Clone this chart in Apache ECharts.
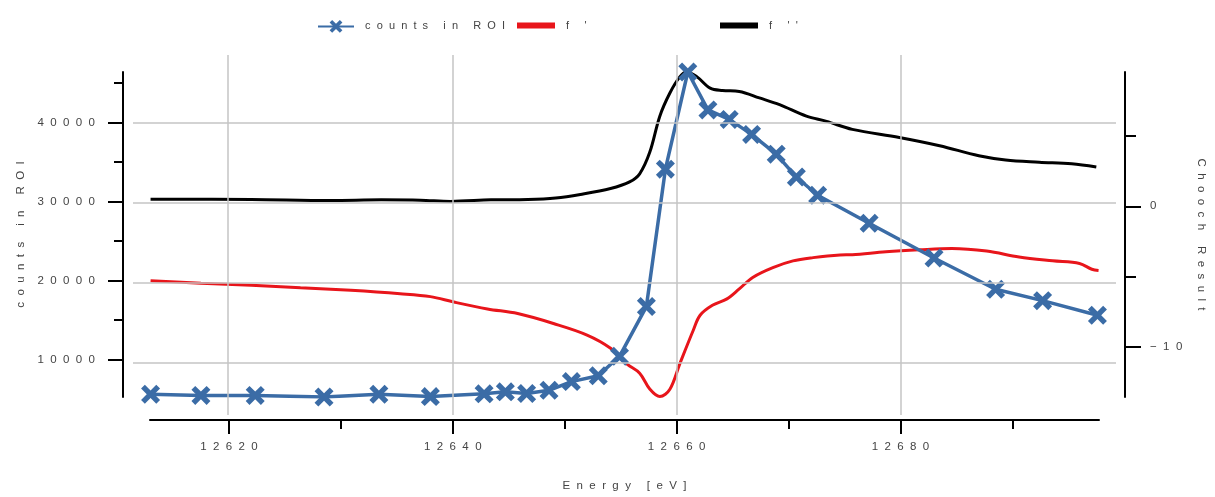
<!DOCTYPE html>
<html>
<head>
<meta charset="utf-8">
<script src="https://cdn.jsdelivr.net/npm/echarts@6/dist/echarts.min.js"></script>
<style>
  html, body { margin: 0; padding: 0; background: #fff; }
  #chart { width: 1215px; height: 497px; }
</style>
</head>
<body>
<div id="chart"></div>
<script>
// counts in ROI (left axis)
const countsEnergy = [12613.0, 12617.5, 12622.35, 12628.5, 12633.4, 12638.0, 12642.8, 12644.7, 12646.6, 12648.6,
  12650.6, 12653.0, 12654.9, 12657.3, 12659.0, 12661.0, 12662.8, 12664.7, 12666.7, 12668.9,
  12670.7, 12672.6, 12677.2, 12683.0, 12688.5, 12692.7, 12697.6];
const countsInROI = [5600, 5450, 5450, 5250, 5600, 5300, 5650, 5900, 5700, 6100,
  7200, 7950, 10400, 16700, 34100, 46400, 41600, 40400, 38500, 36000,
  33100, 30800, 27250, 22850, 18900, 17450, 15600];

// f' (right axis, Chooch Result)
const fPrimeEnergy = [12613.0, 12617.5, 12622.0, 12626.4, 12630.9, 12635.3, 12638.0, 12640.1, 12643.1, 12645.8,
  12649.0, 12652.0, 12654.1, 12655.6, 12656.7, 12657.6, 12658.5, 12659.4, 12660.3, 12661.5,
  12662.1, 12663.2, 12664.5, 12665.6, 12666.8, 12668.6, 12670.4, 12672.2, 12674.6, 12675.7,
  12678.7, 12681.7, 12684.6, 12687.7, 12690.6, 12693.6, 12696.0, 12697.1, 12697.7];
const fPrime = [-5.30, -5.49, -5.63, -5.81, -5.99, -6.23, -6.44, -6.83, -7.32, -7.65,
  -8.36, -9.18, -10.12, -11.27, -11.90, -13.03, -13.57, -13.05, -11.20, -8.82,
  -7.77, -7.06, -6.60, -5.89, -5.07, -4.37, -3.89, -3.66, -3.47, -3.45,
  -3.24, -3.10, -3.01, -3.19, -3.61, -3.89, -4.08, -4.49, -4.58];

// f'' (right axis, Chooch Result)
const fDoubleEnergy = [12613.0, 12622.0, 12629.1, 12633.6, 12637.1, 12639.8, 12643.4, 12646.7, 12649.2, 12651.4,
  12654.1, 12655.8, 12656.7, 12657.6, 12658.5, 12659.4, 12660.3, 12660.9, 12661.8, 12663.0,
  12664.1, 12665.6, 12667.4, 12669.2, 12671.6, 12673.4, 12675.7, 12679.9, 12683.5, 12687.0,
  12689.4, 12692.4, 12695.3, 12697.5];
const fDouble = [0.51, 0.49, 0.42, 0.46, 0.44, 0.35, 0.46, 0.49, 0.60, 0.85,
  1.27, 1.74, 2.32, 3.85, 6.43, 8.08, 9.25, 9.58, 9.25, 8.43,
  8.26, 8.19, 7.73, 7.25, 6.43, 6.06, 5.49, 4.91, 4.32, 3.61,
  3.31, 3.15, 3.03, 2.80];

// ticks
const energyMajor = [12620, 12640, 12660, 12680];
const energyMinor = [12630, 12650, 12670, 12690];
const countsMajor = [10000, 20000, 30000, 40000];
const countsMinor = [15000, 25000, 35000, 45000];
const choochMajor = [-10, 0];
const choochMinor = [-5, 5];

const pairs = (xs, ys) => xs.map((x, i) => [x, ys[i]]);
const spaced = s => String(s).replace('-', '\u2212').split('').join('  ');

const textColor = '#444';
const fontFamily = 'Liberation Sans, Arial, sans-serif';
const crossPath = 'path://M4,0 L10,6 L16,0 L20,4 L14,10 L20,16 L16,20 L10,14 L4,20 L0,16 L6,10 L0,4 Z';

const axisLineStyle = { show: true, onZero: false, lineStyle: { color: '#000', width: 2 } };
const labelStyle = { color: textColor, fontSize: 11.5, fontFamily: fontFamily };
const nameStyle = { color: textColor, fontSize: 11.5, fontFamily: fontFamily };
const hidden = { show: false };

const chart = echarts.init(document.getElementById('chart'), null, { renderer: 'canvas' });

const legendBase = {
  top: 20,
  padding: 0,
  itemWidth: 36,
  textStyle: { color: textColor, fontSize: 11, fontFamily: fontFamily },
  formatter: n => '  ' + spaced(n),
  selectedMode: false
};

const xMin = 12612.95, xMax = 12697.74;
const yMin = 5250, yMax = 46400;
const cMin = -13.6, cMax = 9.58;

const option = {
  backgroundColor: '#fff',
  animation: false,
  legend: [
    Object.assign({}, legendBase, { data: ['counts in ROI'], left: 317, itemHeight: 16 }),
    Object.assign({}, legendBase, { data: ["f '"], left: 517, icon: 'rect', itemHeight: 6, itemWidth: 38 }),
    Object.assign({}, legendBase, { data: ["f ''"], left: 720, icon: 'rect', itemHeight: 6, itemWidth: 38 })
  ],
  grid: [
    { left: 150, right: 115, top: 72, bottom: 96 },
    { left: 133, right: 99, top: 55, bottom: 82 }
  ],
  xAxis: [
    {
      type: 'value', gridIndex: 0, min: xMin, max: xMax, position: 'bottom', offset: 23,
      axisLine: axisLineStyle,
      axisTick: { length: 14, lineStyle: { color: '#000', width: 2 }, customValues: energyMajor },
      axisLabel: Object.assign({ customValues: energyMajor, margin: 21, formatter: v => spaced(v) }, labelStyle),
      splitLine: hidden,
      name: spaced('Energy [eV]'), nameLocation: 'middle', nameGap: 60,
      nameTextStyle: nameStyle
    },
    {
      type: 'value', gridIndex: 0, min: xMin, max: xMax, position: 'bottom', offset: 23,
      axisLine: { show: false, onZero: false },
      axisTick: { length: 9, lineStyle: { color: '#000', width: 2 }, customValues: energyMinor },
      axisLabel: hidden, splitLine: hidden
    },
    { type: 'value', gridIndex: 1, min: 12611.53, max: 12699.16, show: false }
  ],
  yAxis: [
    {
      type: 'value', gridIndex: 0, min: yMin, max: yMax, position: 'left', offset: 27,
      axisLine: axisLineStyle,
      axisTick: { length: 15, lineStyle: { color: '#000', width: 2 }, customValues: countsMajor },
      axisLabel: Object.assign({ customValues: countsMajor, margin: 28, formatter: v => spaced(v) }, labelStyle),
      splitLine: hidden,
      name: spaced('counts in ROI'), nameLocation: 'middle', nameGap: 95,
      nameTextStyle: nameStyle
    },
    {
      type: 'value', gridIndex: 0, min: cMin, max: cMax, position: 'right', offset: 26,
      axisLine: axisLineStyle,
      axisTick: { length: 16, lineStyle: { color: '#000', width: 2 }, customValues: choochMajor },
      axisLabel: Object.assign({ customValues: choochMajor, margin: 25, formatter: v => spaced(v) }, labelStyle),
      splitLine: hidden,
      name: spaced('Chooch Result'), nameLocation: 'middle', nameGap: 70, nameRotate: -90,
      nameTextStyle: nameStyle
    },
    {
      type: 'value', gridIndex: 0, min: yMin, max: yMax, position: 'left', offset: 27,
      axisLine: { show: false, onZero: false },
      axisTick: { length: 9, lineStyle: { color: '#000', width: 2 }, customValues: countsMinor },
      axisLabel: hidden, splitLine: hidden
    },
    {
      type: 'value', gridIndex: 0, min: cMin, max: cMax, position: 'right', offset: 26,
      axisLine: { show: false, onZero: false },
      axisTick: { length: 11, lineStyle: { color: '#000', width: 2 }, customValues: choochMinor },
      axisLabel: hidden, splitLine: hidden
    },
    { type: 'value', gridIndex: 1, min: 3500, max: 48500, show: false }
  ],
  series: [
    {
      // grid lines of the plot area
      name: 'grid', type: 'line', xAxisIndex: 2, yAxisIndex: 4, data: [], z: 0, silent: true,
      markLine: {
        silent: true, symbol: 'none', label: { show: false },
        lineStyle: { color: '#c4c4c4', width: 1.5, type: 'solid' },
        data: countsMajor.map(v => ({ yAxis: v })).concat(energyMajor.map(v => ({ xAxis: v })))
      }
    },
    {
      name: "f '", type: 'line', xAxisIndex: 0, yAxisIndex: 1,
      data: pairs(fPrimeEnergy, fPrime),
      showSymbol: false, smooth: 0.35,
      lineStyle: { color: '#e8151b', width: 3 }, itemStyle: { color: '#e8151b' }, z: 2
    },
    {
      name: "f ''", type: 'line', xAxisIndex: 0, yAxisIndex: 1,
      data: pairs(fDoubleEnergy, fDouble),
      showSymbol: false, smooth: 0.35,
      lineStyle: { color: '#000', width: 3 }, itemStyle: { color: '#000' }, z: 2
    },
    {
      name: 'counts in ROI', type: 'line', xAxisIndex: 0, yAxisIndex: 0,
      data: pairs(countsEnergy, countsInROI),
      symbol: crossPath, symbolSize: 19, showSymbol: true,
      lineStyle: { color: '#3b6ca6', width: 3.5 }, itemStyle: { color: '#3b6ca6' }, z: 3
    }
  ]
};

chart.setOption(option);
</script>
</body>
</html>
